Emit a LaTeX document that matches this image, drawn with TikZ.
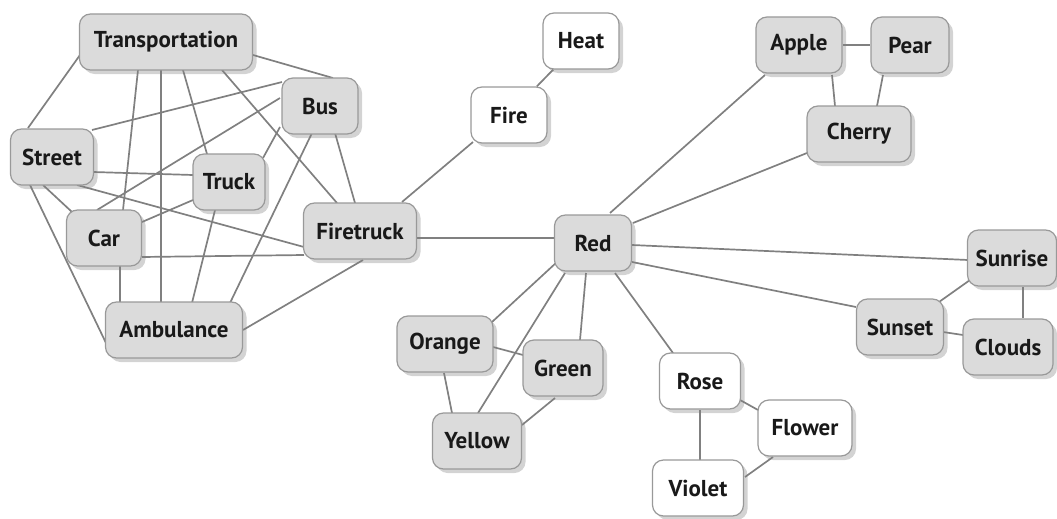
\documentclass[tikz,border=0pt]{standalone}
\usepackage{fontspec}
\setmainfont{PT Sans}
\usetikzlibrary{shadows, backgrounds}

\begin{document}
\begin{tikzpicture}[
		x=1pt, y=-1pt,
		term/.style={draw=black!40, line width=1.2pt, fill=black!14, rounded corners=11pt,
			minimum height=56pt, minimum width=76pt, inner xsep=8pt,
			font=\fontsize{23}{25}\selectfont\bfseries, text=black!90,
			drop shadow={shadow xshift=4pt, shadow yshift=-4pt, opacity=0.35}},
		light/.style={term, fill=white},
		link/.style={draw=black!50, line width=1.7pt}
		]
		\useasboundingbox (0,0) rectangle (1057,519);
		
		% --- Vehicles ---
		\node[term, minimum width=173pt] (transport) at (166,42) {Transportation};
		\node[term] (bus) at (320,106) {Bus};
		\node[term, minimum width=83pt] (street) at (52,157) {Street};
		\node[term, minimum width=72pt] (truck) at (229,182) {Truck};
		\node[term, minimum width=75pt] (car) at (104,238) {Car};
		\node[term, minimum width=113pt] (firetruck) at (360,231) {Firetruck};
		\node[term, minimum width=137pt] (ambulance) at (174,330) {Ambulance};
		
		% --- Fire ---
		\node[light] (fire) at (509,115) {Fire};
		\node[light] (heat) at (581,41) {Heat};
		
		% --- Red and friends ---
		\node[term, minimum width=77pt] (red) at (593,243) {Red};
		\node[term, minimum width=86pt] (apple) at (799,45) {Apple};
		\node[term, minimum width=78pt] (pear) at (910,45) {Pear};
		\node[term, minimum width=104pt] (cherry) at (859,134) {Cherry};
		\node[term, minimum width=89pt] (sunrise) at (1012,258) {Sunrise};
		\node[term, minimum width=87pt] (sunset) at (900,327) {Sunset};
		\node[term, minimum width=90pt] (clouds) at (1008,347) {Clouds};
		\node[term, minimum width=96pt] (orange) at (445,344) {Orange};
		\node[term, minimum width=80pt] (green) at (563,368) {Green};
		\node[term, minimum width=89pt] (yellow) at (477,441) {Yellow};
		\node[light, minimum width=81pt] (rose) at (700,381) {Rose};
		\node[light, minimum width=94pt] (flower) at (805,428) {Flower};
		\node[light, minimum width=91pt] (violet) at (698,488) {Violet};
		
		\begin{pgfonlayer}{background}
			% --- Links of the vehicle cluster ---
			\draw[link] ([shift={(-86,13)}]transport.center) -- ([shift={(-24,-29)}]street.center);
			\draw[link] ([shift={(87,13)}]transport.center) -- ([shift={(13,-28)}]bus.center);
			\draw[link] ([shift={(-28,28)}]transport.center) -- ([shift={(19,-28)}]car.center);
			\draw[link] ([shift={(-5,28)}]transport.center) -- ([shift={(-13,-27)}]ambulance.center);
			\draw[link] ([shift={(17,28)}]transport.center) -- ([shift={(-22,-28)}]truck.center);
			\draw[link] ([shift={(56,28)}]transport.center) -- ([shift={(-23,-28)}]firetruck.center);
			\draw[link] ([shift={(-38,-24)}]bus.center) -- ([shift={(40,-27)}]street.center);
			\draw[link] ([shift={(-40,-8)}]bus.center) -- ([shift={(-7,-28)}]car.center);
			\draw[link] ([shift={(-40,21)}]bus.center) -- ([shift={(34,-24)}]truck.center);
			\draw[link] ([shift={(-8,27)}]bus.center) -- ([shift={(56,-27)}]ambulance.center);
			\draw[link] ([shift={(15,27)}]bus.center) -- ([shift={(-5,-28)}]firetruck.center);
			\draw[link] ([shift={(41,15)}]street.center) -- ([shift={(-36,-7)}]truck.center);
			\draw[link] ([shift={(25,28)}]street.center) -- ([shift={(-56,16)}]firetruck.center);
			\draw[link] ([shift={(-9,28)}]street.center) -- ([shift={(-32,-26)}]car.center);
			\draw[link] ([shift={(-22,28)}]street.center) -- ([shift={(-68,13)}]ambulance.center);
			\draw[link] ([shift={(-36,18)}]truck.center) -- ([shift={(38,-16)}]car.center);
			\draw[link] ([shift={(-14,28)}]truck.center) -- ([shift={(18,-27)}]ambulance.center);
			\draw[link] ([shift={(38,19)}]car.center) -- ([shift={(-56,24)}]firetruck.center);
			\draw[link] ([shift={(16,27)}]car.center) -- ([shift={(-54,-27)}]ambulance.center);
			\draw[link] ([shift={(3,29)}]firetruck.center) -- ([shift={(69,0)}]ambulance.center);
			
			% --- Fire and Red ---
			\draw[link] ([shift={(42,-29)}]firetruck.center) -- ([shift={(-36,27)}]fire.center);
			\draw[link] ([shift={(57,7)}]firetruck.center) -- ([shift={(-38,-5)}]red.center);
			\draw[link] (fire) -- (heat);
			
			% --- Links around Red ---
			\draw[link] ([shift={(17,-30)}]red.center) -- ([shift={(-34,30)}]apple.center);
			\draw[link] ([shift={(40,-20)}]red.center) -- ([shift={(-52,19)}]cherry.center);
			\draw[link] ([shift={(39,2)}]red.center) -- ([shift={(-44,2)}]sunrise.center);
			\draw[link] ([shift={(39,19)}]red.center) -- ([shift={(-44,-20)}]sunset.center);
			\draw[link] ([shift={(-36,19)}]red.center) -- ([shift={(47,-22)}]orange.center);
			\draw[link] ([shift={(-28,30)}]red.center) -- ([shift={(1,-28)}]yellow.center);
			\draw[link] ([shift={(-7,30)}]red.center) -- ([shift={(17,-28)}]green.center);
			\draw[link] ([shift={(22,30)}]red.center) -- ([shift={(-27,-28)}]rose.center);
			
			% --- Small groups ---
			\draw[link] (apple) -- (pear);
			\draw[link] ([shift={(33,30)}]apple.center) -- ([shift={(-24,-28)}]cherry.center);
			\draw[link] ([shift={(-27,30)}]pear.center) -- ([shift={(18,-28)}]cherry.center);
			\draw[link] ([shift={(-42,22)}]sunrise.center) -- ([shift={(39,-25)}]sunset.center);
			\draw[link] ([shift={(11,29)}]sunrise.center) -- ([shift={(15,-29)}]clouds.center);
			\draw[link] ([shift={(43,5)}]sunset.center) -- ([shift={(-45,-12)}]clouds.center);
			\draw[link] ([shift={(48,3)}]orange.center) -- ([shift={(-40,-13)}]green.center);
			\draw[link] ([shift={(-1,29)}]orange.center) -- ([shift={(-25,-28)}]yellow.center);
			\draw[link] ([shift={(-8,30)}]green.center) -- ([shift={(45,-16)}]yellow.center);
			\draw[link] ([shift={(40,19)}]rose.center) -- ([shift={(-47,-18)}]flower.center);
			\draw[link] ([shift={(0,29)}]rose.center) -- ([shift={(2,-28)}]violet.center);
			\draw[link] ([shift={(-32,29)}]flower.center) -- ([shift={(47,-11)}]violet.center);
		\end{pgfonlayer}
		
	\end{tikzpicture}
\end{document}
